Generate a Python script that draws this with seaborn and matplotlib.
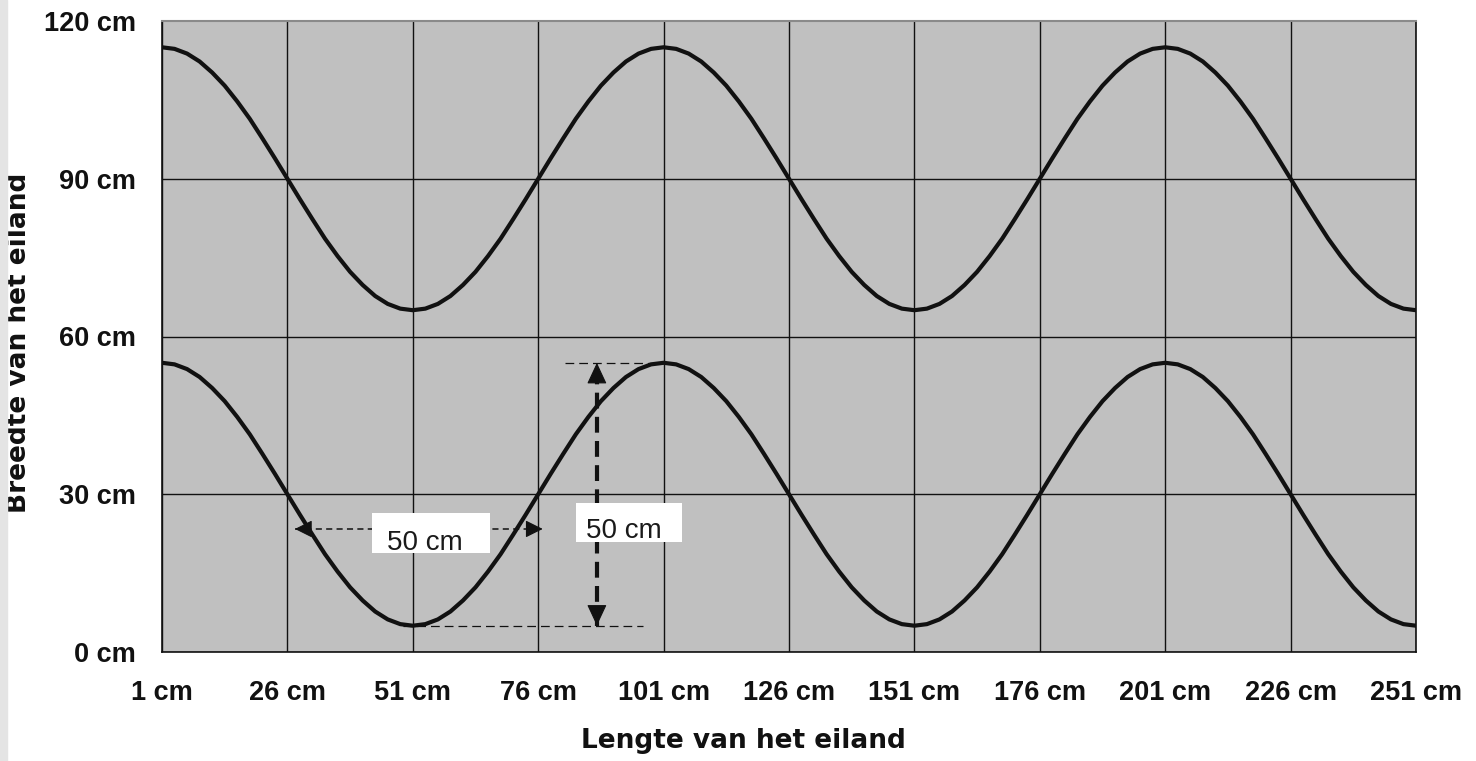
"""
Eiland met golvende randen: breedte van het eiland langs de lengte.
Twee randen (boven en onder) als cosinusvormige lijnen, met maatlijnen
voor de golflengte (50 cm) en de amplitude (50 cm).
"""

import matplotlib.pyplot as plt
from matplotlib.patches import Rectangle
import pandas as pd
import seaborn as sns

### Data (om de 2,5 cm)
LENGTE = [1 + 2.5 * i for i in range(101)]

BOVENRAND = [
    # 1 - 98.5 cm
    115.0, 114.7, 113.8, 112.3, 110.2, 107.7, 104.7, 101.4, 97.7, 93.9,
    90.0, 86.1, 82.3, 78.6, 75.3, 72.3, 69.8, 67.7, 66.2, 65.3,
    65.0, 65.3, 66.2, 67.7, 69.8, 72.3, 75.3, 78.6, 82.3, 86.1,
    90.0, 93.9, 97.7, 101.4, 104.7, 107.7, 110.2, 112.3, 113.8, 114.7,
    # 101 - 198.5 cm
    115.0, 114.7, 113.8, 112.3, 110.2, 107.7, 104.7, 101.4, 97.7, 93.9,
    90.0, 86.1, 82.3, 78.6, 75.3, 72.3, 69.8, 67.7, 66.2, 65.3,
    65.0, 65.3, 66.2, 67.7, 69.8, 72.3, 75.3, 78.6, 82.3, 86.1,
    90.0, 93.9, 97.7, 101.4, 104.7, 107.7, 110.2, 112.3, 113.8, 114.7,
    # 201 - 251 cm
    115.0, 114.7, 113.8, 112.3, 110.2, 107.7, 104.7, 101.4, 97.7, 93.9,
    90.0, 86.1, 82.3, 78.6, 75.3, 72.3, 69.8, 67.7, 66.2, 65.3,
    65.0,
]
ONDERRAND = [
    # 1 - 98.5 cm
    55.0, 54.7, 53.8, 52.3, 50.2, 47.7, 44.7, 41.4, 37.7, 33.9,
    30.0, 26.1, 22.3, 18.6, 15.3, 12.3, 9.8, 7.7, 6.2, 5.3,
    5.0, 5.3, 6.2, 7.7, 9.8, 12.3, 15.3, 18.6, 22.3, 26.1,
    30.0, 33.9, 37.7, 41.4, 44.7, 47.7, 50.2, 52.3, 53.8, 54.7,
    # 101 - 198.5 cm
    55.0, 54.7, 53.8, 52.3, 50.2, 47.7, 44.7, 41.4, 37.7, 33.9,
    30.0, 26.1, 22.3, 18.6, 15.3, 12.3, 9.8, 7.7, 6.2, 5.3,
    5.0, 5.3, 6.2, 7.7, 9.8, 12.3, 15.3, 18.6, 22.3, 26.1,
    30.0, 33.9, 37.7, 41.4, 44.7, 47.7, 50.2, 52.3, 53.8, 54.7,
    # 201 - 251 cm
    55.0, 54.7, 53.8, 52.3, 50.2, 47.7, 44.7, 41.4, 37.7, 33.9,
    30.0, 26.1, 22.3, 18.6, 15.3, 12.3, 9.8, 7.7, 6.2, 5.3,
    5.0,
]

X_TICKS = [1, 26, 51, 76, 101, 126, 151, 176, 201, 226, 251]
Y_TICKS = [0, 30, 60, 90, 120]
X_LABELS = [f"{v} cm" for v in X_TICKS]
Y_LABELS = [f"{v} cm" for v in Y_TICKS]

# Maatlijnen: golflengte (horizontaal) en hoogte (verticaal)
GOLF_X = (27.5, 76.9)
GOLF_Y = 23.4
HOOGTE_X = 87.7
HOOGTE_Y = (5.0, 55.0)
MAAT_TEKST = "50 cm"

GRIJS = "#C0C0C0"
ZWART = "#111111"


def main() -> None:
    sns.set_theme(style="white")
    plt.rcParams.update({
        "font.family": ["Liberation Sans", "DejaVu Sans"],
        "axes.facecolor": GRIJS,
        "figure.facecolor": "white",
    })

    df = pd.DataFrame({"lengte": LENGTE, "boven": BOVENRAND,
                       "onder": ONDERRAND})

    fig = plt.figure(figsize=(14.76, 7.61), dpi=100)
    ax = fig.add_axes([162 / 1476, 109 / 761, 1254 / 1476, 631 / 761])

    # Lichtgrijze strook links, zoals in de bron
    fig.patches.append(Rectangle((0, 0), 7 / 1476, 1, color="#E4E4E4",
                                 transform=fig.transFigure, zorder=0))

    ### Randen van het eiland
    sns.lineplot(data=df, x="lengte", y="boven", color=ZWART,
                 linewidth=3.0, ax=ax, zorder=4)
    sns.lineplot(data=df, x="lengte", y="onder", color=ZWART,
                 linewidth=3.0, ax=ax, zorder=4)

    ax.set_xlim(1, 251)
    ax.set_ylim(0, 120)
    ax.set_xticks(X_TICKS)
    ax.set_xticklabels(X_LABELS)
    ax.set_yticks(Y_TICKS)
    ax.set_yticklabels(Y_LABELS)

    ax.grid(True, color=ZWART, linewidth=1.0)
    ax.set_axisbelow(True)
    ax.yaxis.get_gridlines()[-1].set_visible(False)

    for kant in ["left", "bottom", "right"]:
        ax.spines[kant].set_color(ZWART)
        ax.spines[kant].set_linewidth(1.2)
    ax.spines["top"].set_color("#8A8A8A")
    ax.spines["top"].set_linewidth(1.5)

    ax.tick_params(axis="both", which="major", direction="out",
                   color=ZWART, width=1.1, labelcolor=ZWART)
    ax.tick_params(axis="x", length=8, pad=12, labelsize=19.5)
    ax.tick_params(axis="y", length=7, pad=12, labelsize=19.5)
    for lab in ax.get_xticklabels() + ax.get_yticklabels():
        lab.set_fontweight("bold")

    ax.set_xlabel("Lengte van het eiland", fontsize=19, fontweight="bold",
                  family="DejaVu Sans", color=ZWART)
    ax.set_ylabel("Breedte van het eiland", fontsize=19, fontweight="bold",
                  family="DejaVu Sans", color=ZWART)
    ax.xaxis.set_label_coords(0.464, -0.12)
    ax.yaxis.set_label_coords(-0.104, 0.49)

    ### Hulplijnen bij de top en het dal
    ax.plot([81.3, 101.3], [HOOGTE_Y[1]] * 2, color=ZWART, linewidth=0.9,
            linestyle=(0, (7, 4)), zorder=3)
    ax.plot([49.0, 96.9], [HOOGTE_Y[0]] * 2, color=ZWART, linewidth=0.9,
            linestyle=(0, (7, 4)), zorder=3)

    ### Maatlijn golflengte (horizontaal, fijn gestippeld)
    ax.plot(GOLF_X, [GOLF_Y] * 2, color=ZWART, linewidth=1.1,
            linestyle=(0, (4, 2.8)), zorder=5)
    for tip, staart in [(GOLF_X[0], GOLF_X[0] + 3), (GOLF_X[1], GOLF_X[1] - 3)]:
        ax.annotate("", xy=(tip, GOLF_Y), xytext=(staart, GOLF_Y),
                    arrowprops=dict(arrowstyle="-|>,head_length=0.6,head_width=0.3",
                                    color=ZWART, lw=0.8, mutation_scale=18,
                                    shrinkA=0, shrinkB=0), zorder=5)

    ### Maatlijn hoogte (verticaal, grof gestreept)
    ax.plot([HOOGTE_X] * 2, HOOGTE_Y, color=ZWART, linewidth=3,
            linestyle=(0, (3.8, 2)), zorder=5)
    for tip, staart in [(HOOGTE_Y[0], HOOGTE_Y[0] + 3), (HOOGTE_Y[1], HOOGTE_Y[1] - 3)]:
        ax.annotate("", xy=(HOOGTE_X, tip), xytext=(HOOGTE_X, staart),
                    arrowprops=dict(arrowstyle="-|>,head_length=0.75,head_width=0.35",
                                    color=ZWART, lw=0.8, mutation_scale=18,
                                    shrinkA=0, shrinkB=0), zorder=5)

    ### Witte labelvakken
    ax.add_patch(Rectangle((42.9, 18.8), 23.5, 7.6, facecolor="white",
                           edgecolor="none", zorder=6))
    ax.add_patch(Rectangle((83.5, 20.9), 21.2, 7.4, facecolor="white",
                           edgecolor="none", zorder=6))
    ax.text(53.5, 19.4, MAAT_TEKST, ha="center", va="baseline",
            fontsize=20, color="#1A1A1A", zorder=7)
    ax.text(93.1, 21.7, MAAT_TEKST, ha="center", va="baseline",
            fontsize=20, color="#1A1A1A", zorder=7)

    fig.savefig("out.png", dpi=100, facecolor=fig.get_facecolor())
    plt.close(fig)


if __name__ == "__main__":
    main()
